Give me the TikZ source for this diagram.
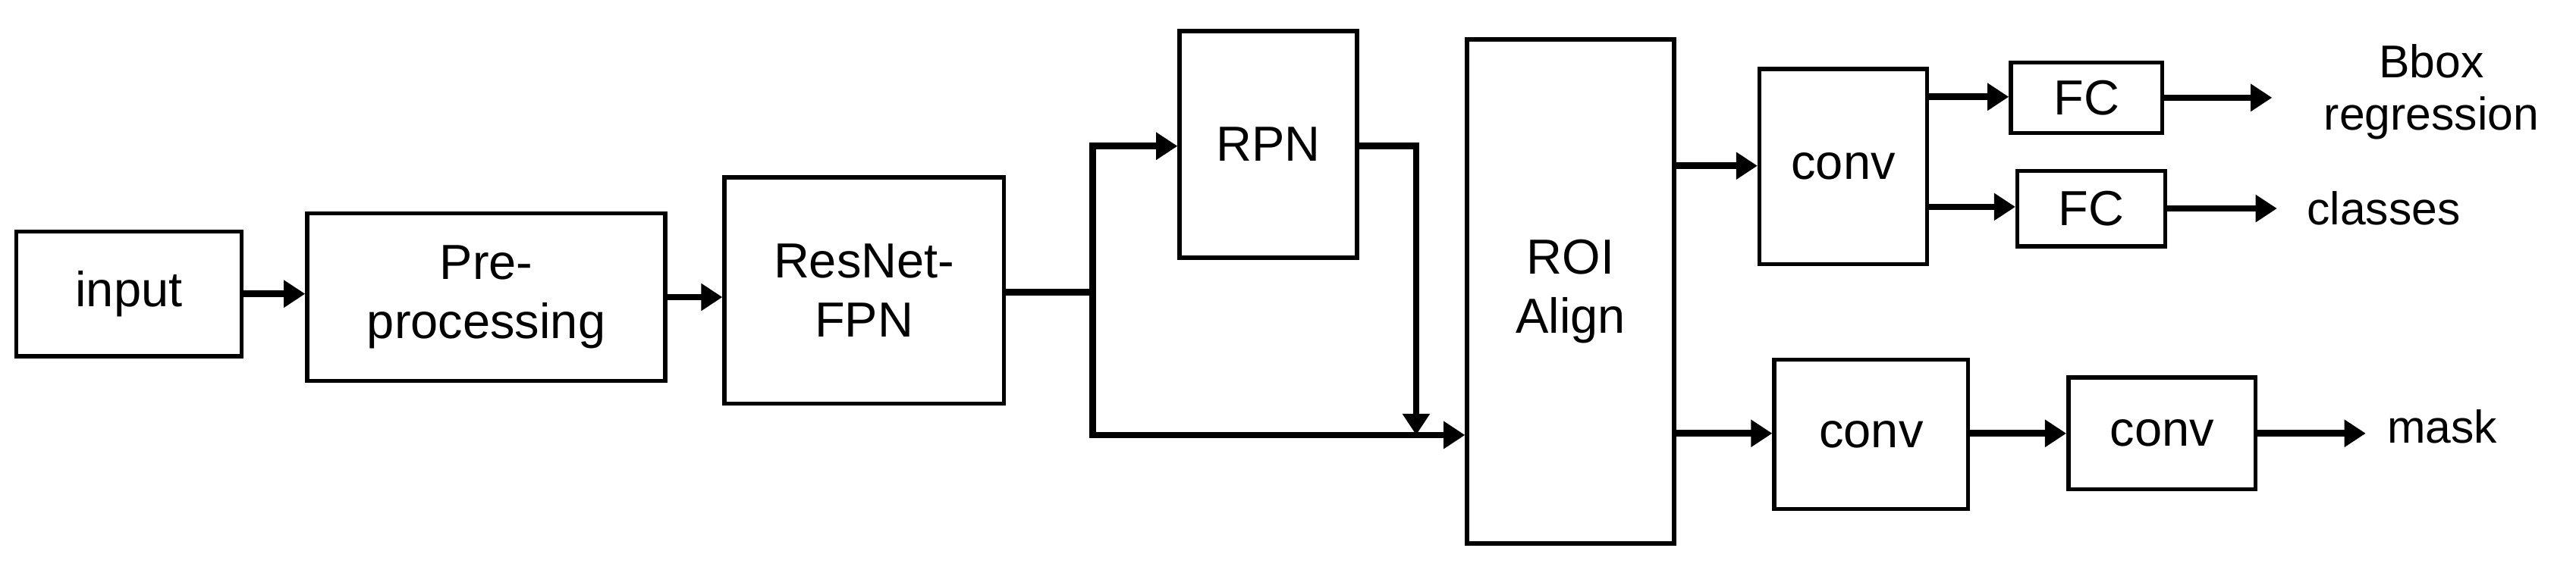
\documentclass[tikz,border=0pt]{standalone}
\usepackage{fontspec}
\setmainfont{Liberation Sans}
\usetikzlibrary{arrows.meta}
\begin{document}
\begin{tikzpicture}[x=1pt,y=-1pt,
 box/.style={draw,line width=2.5pt,inner sep=0pt,align=center,font=\fontsize{30}{36}\selectfont},
 lbl/.style={inner sep=0pt,align=center,font=\fontsize{28}{32}\selectfont},
 ar/.style={line width=4pt,-{Triangle[length=13pt,width=16pt]}},
 ln/.style={line width=4pt}]
\useasboundingbox (0,0) rectangle (1568,347);
\node[box,minimum width=137pt,minimum height=76pt] (in) at (78.5,179) {input};
\node[box,minimum width=218pt,minimum height=102pt] (pre) at (296,181) {Pre-\\processing};
\node[box,minimum width=170pt,minimum height=138pt] (res) at (526,177) {ResNet-\\FPN};
\node[box,minimum width=108pt,minimum height=138pt] (rpn) at (772,88) {RPN};
\node[box,minimum width=126pt,minimum height=307pt] (roi) at (956,177.5) {ROI\\Align};
\node[box,minimum width=102pt,minimum height=119pt] (c1) at (1122,101.5) {conv};
\node[box,minimum width=92pt,minimum height=43pt] (fc1) at (1270,59.5) {FC};
\node[box,minimum width=90pt,minimum height=46pt] (fc2) at (1273,127) {FC};
\node[box,minimum width=118pt,minimum height=91pt] (c2) at (1139,264.5) {conv};
\node[box,minimum width=114pt,minimum height=68pt] (c3) at (1316,264) {conv};
\node[lbl] (bb) at (1480,56) {Bbox\\regression};
\node[lbl,anchor=west] (cl) at (1404,127) {classes};
\node[lbl,anchor=west] (mk) at (1453,260) {mask};
\coordinate (j) at (665,178);
\draw[ar] (in.east) -- (pre.west|-in.east);
\draw[ar] (pre.east) -- (res.west|-pre.east);
\draw[ln] (res.east|-j) -- (j);
\draw[ar] (j) -- (665,89) -- (rpn.west|-0,89);
\draw[ar] (j) -- (665,265) -- (roi.west|-0,265);
\draw[ar] (rpn.east|-0,89) -- (862,89) -- (862,265);
\draw[ar] (roi.east|-0,101) -- (c1.west|-0,101);
\draw[ar] (c1.east|-0,59) -- (fc1.west|-0,59);
\draw[ar] (c1.east|-0,126) -- (fc2.west|-0,126);
\draw[ar] (fc1.east) -- (1383,59.5);
\draw[ar] (fc2.east) -- (1386,127);
\draw[ar] (roi.east|-0,264) -- (c2.west|-0,264);
\draw[ar] (c2.east|-0,264) -- (c3.west|-0,264);
\draw[ar] (c3.east) -- (1440,264);
\end{tikzpicture}
\end{document}
